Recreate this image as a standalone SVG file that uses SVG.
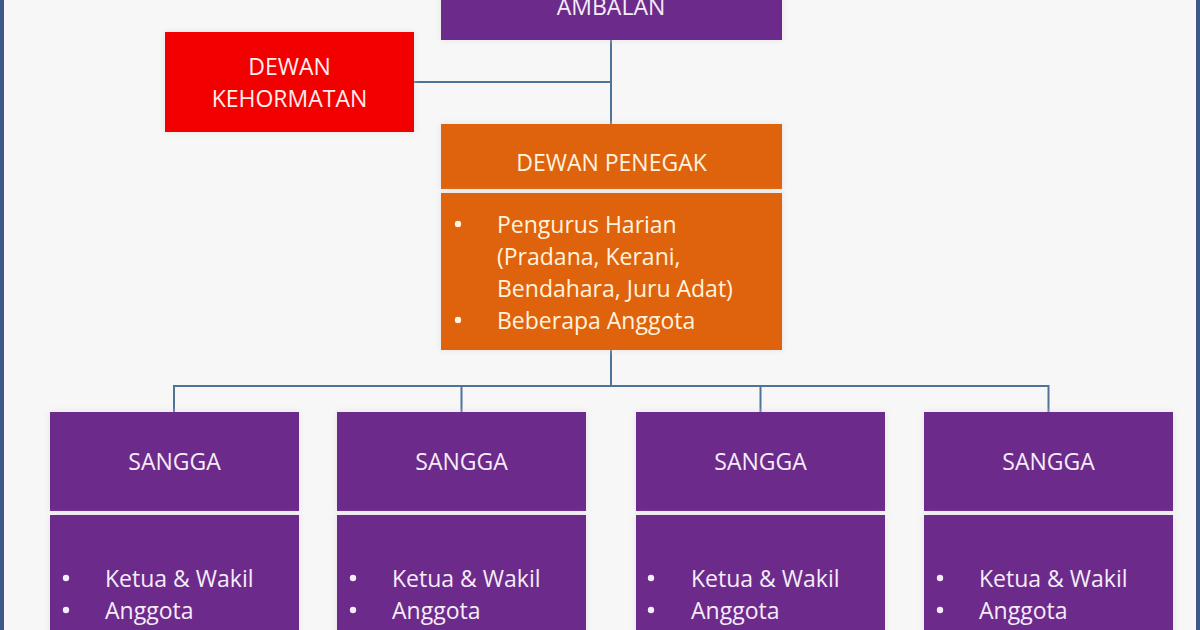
<svg xmlns="http://www.w3.org/2000/svg" width="1200" height="630" viewBox="0 0 1200 630">
  <defs>
    <filter id="sh" x="-10%" y="-10%" width="120%" height="120%">
      <feDropShadow dx="0" dy="0" stdDeviation="3" flood-color="#d8d0d8" flood-opacity="0.6"/>
    </filter>
  </defs>
  <style>
    .purple { fill: #6c2a8b; filter: url(#sh); }
    .orange { fill: #df630f; filter: url(#sh); }
    .red { fill: #f20303; filter: url(#sh); }
    .t { font-family: "Open Sans", "Liberation Sans", sans-serif; font-size: 23px; }
    .tp { fill: #f6ecf8; }
    .to { fill: #fff3df; }
    .tr { fill: #ffecec; }
    .c { text-anchor: middle; }
    .bp { fill: #f6ecf8; }
    .bo { fill: #fff3df; }
    .conn { stroke: #4e7399; stroke-width: 2; fill: none; }
  </style>
  <rect x="0" y="0" width="1200" height="630" fill="#f7f7f7"/>
  <rect x="0" y="0" width="4" height="630" fill="#3b5a86"/>
  <rect x="1196" y="0" width="4" height="630" fill="#3b5a86"/>

  <g id="connectors">
    <line class="conn" x1="611" y1="40" x2="611" y2="124"/>
    <line class="conn" x1="414" y1="82" x2="611" y2="82"/>
    <line class="conn" x1="611" y1="350" x2="611" y2="386"/>
    <line class="conn" x1="174" y1="386" x2="1049" y2="386"/>
    <line class="conn" x1="174" y1="385" x2="174" y2="412"/>
    <line class="conn" x1="461.5" y1="385" x2="461.5" y2="412"/>
    <line class="conn" x1="760.5" y1="385" x2="760.5" y2="412"/>
    <line class="conn" x1="1048.5" y1="385" x2="1048.5" y2="412"/>
  </g>

  <g id="ambalan">
    <rect class="purple" x="441" y="-20" width="341" height="60"/>
    <text class="t tp c" x="611" y="15">AMBALAN</text>
  </g>

  <g id="dewan-kehormatan">
    <rect class="red" x="165" y="32" width="249" height="100"/>
    <text class="t tr c" x="289.5" y="75">DEWAN</text>
    <text class="t tr c" x="289.5" y="107">KEHORMATAN</text>
  </g>

  <g id="dewan-penegak">
    <rect class="orange" x="441" y="124" width="341" height="65"/>
    <text class="t to c" x="611.5" y="171">DEWAN PENEGAK</text>
    <rect class="orange" x="441" y="193" width="341" height="157"/>
    <circle class="bo" cx="458" cy="224" r="3.2"/>
    <text class="t to" x="497" y="233">Pengurus Harian</text>
    <text class="t to" x="497" y="265">(Pradana, Kerani,</text>
    <text class="t to" x="497" y="297">Bendahara, Juru Adat)</text>
    <circle class="bo" cx="458" cy="320" r="3.2"/>
    <text class="t to" x="497" y="329">Beberapa Anggota</text>
  </g>

  <g id="sangga-1">
    <rect class="purple" x="50" y="412" width="249" height="99"/>
    <text class="t tp c" x="174.5" y="470">SANGGA</text>
    <rect class="purple" x="50" y="515" width="249" height="130"/>
    <circle class="bp" cx="66" cy="578" r="3.2"/>
    <text class="t tp" x="105" y="587">Ketua &amp; Wakil</text>
    <circle class="bp" cx="66" cy="610" r="3.2"/>
    <text class="t tp" x="105" y="619">Anggota</text>
  </g>

  <g id="sangga-2">
    <rect class="purple" x="337" y="412" width="249" height="99"/>
    <text class="t tp c" x="461.5" y="470">SANGGA</text>
    <rect class="purple" x="337" y="515" width="249" height="130"/>
    <circle class="bp" cx="353" cy="578" r="3.2"/>
    <text class="t tp" x="392" y="587">Ketua &amp; Wakil</text>
    <circle class="bp" cx="353" cy="610" r="3.2"/>
    <text class="t tp" x="392" y="619">Anggota</text>
  </g>

  <g id="sangga-3">
    <rect class="purple" x="636" y="412" width="249" height="99"/>
    <text class="t tp c" x="760.5" y="470">SANGGA</text>
    <rect class="purple" x="636" y="515" width="249" height="130"/>
    <circle class="bp" cx="651" cy="578" r="3.2"/>
    <text class="t tp" x="691" y="587">Ketua &amp; Wakil</text>
    <circle class="bp" cx="651" cy="610" r="3.2"/>
    <text class="t tp" x="691" y="619">Anggota</text>
  </g>

  <g id="sangga-4">
    <rect class="purple" x="924" y="412" width="249" height="99"/>
    <text class="t tp c" x="1048.5" y="470">SANGGA</text>
    <rect class="purple" x="924" y="515" width="249" height="130"/>
    <circle class="bp" cx="940" cy="578" r="3.2"/>
    <text class="t tp" x="979" y="587">Ketua &amp; Wakil</text>
    <circle class="bp" cx="940" cy="610" r="3.2"/>
    <text class="t tp" x="979" y="619">Anggota</text>
  </g>
</svg>
